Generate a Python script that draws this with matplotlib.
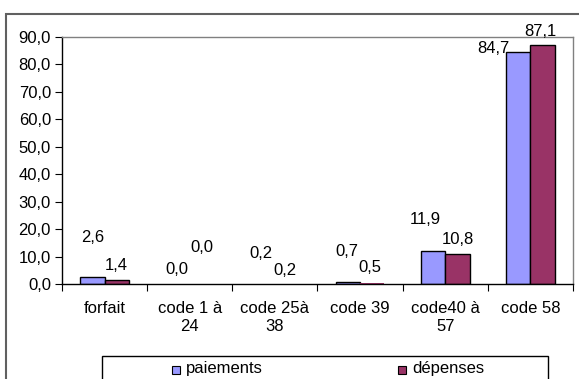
import matplotlib
matplotlib.use("Agg")
import matplotlib.pyplot as plt
from matplotlib.patches import Rectangle
import numpy as np

plt.rcParams['font.family'] = ['Liberation Sans', 'DejaVu Sans']

categories = ["forfait", "code 1 à\n24", "code 25à\n38", "code 39", "code40 à\n57", "code 58"]
paiements = [2.6, 0.0, 0.2, 0.7, 11.9, 84.7]
depenses = [1.4, 0.0, 0.2, 0.5, 10.8, 87.1]
series_names = ["paiements", "dépenses"]
yticks = [0, 10, 20, 30, 40, 50, 60, 70, 80, 90]

# label offsets (pixels) relative to bar top centre
p_off = [(0, 39), (-1, 14), (-2, 30), (-1, 31), (-8, 32), (-25, 3)]
d_off = [(0, 15), (0, 37), (-2, 13), (-2, 15), (0, 15), (-2, 13)]

W, H = 579, 379
fig = plt.figure(figsize=(W / 100, H / 100), dpi=100)
ax = fig.add_axes([62 / W, 1 - 284 / H, (573 - 62) / W, (284 - 37) / H])

c_p = "#9999FF"
c_d = "#993366"
x = np.arange(len(categories))
bw = 0.285
bp = ax.bar(x - bw / 2, paiements, bw, color=c_p, edgecolor="black", linewidth=1.0)
bd = ax.bar(x + bw / 2, depenses, bw, color=c_d, edgecolor="black", linewidth=1.0)
# bars thinner than about one pixel are not visible in the original rendering
for b in list(bp) + list(bd):
    if b.get_height() < 0.6:
        b.set_edgecolor("none")
        if b.get_height() < 0.3:
            b.set_visible(False)

fs = 12
def fmt(v):
    return f"{v:.1f}".replace(".", ",")

for xi, v, off in zip(x - bw / 2, paiements, p_off):
    ax.annotate(fmt(v), (xi, v), xytext=off, textcoords="offset pixels",
                ha="center", va="center", fontsize=fs, color="black", annotation_clip=False)
for xi, v, off in zip(x + bw / 2, depenses, d_off):
    ax.annotate(fmt(v), (xi, v), xytext=off, textcoords="offset pixels",
                ha="center", va="center", fontsize=fs, color="black", annotation_clip=False)

ax.set_xlim(-0.5, len(categories) - 0.5)
ax.set_ylim(0, 90)
ax.set_yticks(yticks)
ax.set_yticklabels([fmt(t) for t in yticks], fontsize=fs)
ax.set_xticks(np.arange(len(categories) + 1) - 0.5)
ax.set_xticklabels([])
ax.set_xticks(x, minor=True)
ax.set_xticklabels(categories, minor=True, fontsize=fs, linespacing=1.3)
ax.tick_params(axis="x", which="minor", length=0, pad=12)
ax.tick_params(axis="x", which="major", length=5, direction="out", color="black")
ax.tick_params(axis="y", length=5, direction="out", pad=3)

ax.spines["left"].set_color("black")
ax.spines["bottom"].set_color("black")
ax.spines["top"].set_color("#808080")
ax.spines["right"].set_color("#808080")
for s in ax.spines.values():
    s.set_linewidth(1.0)

# outer chart border
fig.patches.append(Rectangle((6 / W, -0.1), 1.1, 1 - 13.5 / H + 0.1, transform=fig.transFigure,
                             fill=False, edgecolor="#606060", linewidth=1.5, clip_on=False))

# legend box
fig.patches.append(Rectangle((102 / W, -0.1), (548 - 102) / W, 1 - 356 / H + 0.1,
                             transform=fig.transFigure, fill=False, edgecolor="black",
                             linewidth=1.0))
leg_items = [(172, c_p, series_names[0]), (398, c_d, series_names[1])]
for lx, col, name in leg_items:
    fig.patches.append(Rectangle((lx / W, 1 - 374 / H), 8 / W, 8 / H, transform=fig.transFigure,
                                 facecolor=col, edgecolor="black", linewidth=0.8))
    fig.text((lx + 14) / W, 1 - 369 / H, name, fontsize=fs, ha="left", va="center")

fig.savefig("out.png", dpi=100)
